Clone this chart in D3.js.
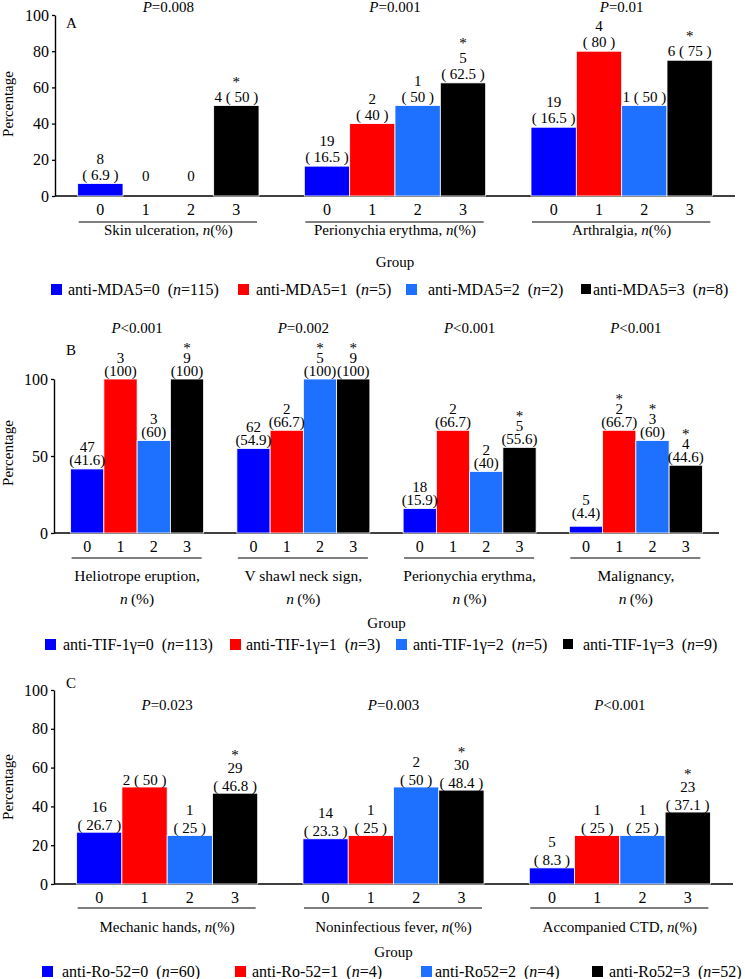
<!DOCTYPE html>
<html><head><meta charset="utf-8">
<script src="https://cdn.jsdelivr.net/npm/d3@7"></script>
<style>
body{margin:0;background:#fff}
svg{display:block}
text{font-family:"Liberation Serif","Times New Roman",serif;fill:#000;white-space:pre}
</style>
</head><body>
<svg id="c" width="745" height="979"></svg>
<script>
// ---------- DATA ----------
const groupLevels = ["0", "1", "2", "3"];

// Panel A (anti-MDA5)
const catsA = ["Skin ulceration,", "Perionychia erythma,", "Arthralgia,"];
const pA = ["=0.008", "=0.001", "=0.01"];
const barsA = [[6.9, 0, 0, 50], [16.5, 40, 50, 62.5], [38, 80, 50, 75]];
const countsA = [["8", "0", "0", "4"], ["19", "2", "1", "5"], ["19", "4", "1", "6"]];
const pctA = [["6.9", null, null, "50"], ["16.5", "40", "50", "62.5"], ["16.5", "80", "50", "75"]];
const starsA = [[0, 0, 0, 1], [0, 0, 0, 1], [0, 0, 0, 1]];
const inlineA = [[0, 0, 0, 1], [0, 0, 0, 0], [0, 0, 1, 1]];
const legendA = ["anti-MDA5=0", "anti-MDA5=1", "anti-MDA5=2", "anti-MDA5=3"];
const legendNA = ["115", "5", "2", "8"];
const yTicksA = [0, 20, 40, 60, 80, 100];

// Panel B (anti-TIF-1γ)
const catsB = ["Heliotrope eruption,", "V shawl neck sign,", "Perionychia erythma,", "Malignancy,"];
const pB = ["<0.001", "=0.002", "<0.001", "<0.001"];
const barsB = [[41.6, 100, 60, 100], [54.9, 66.7, 100, 100], [15.9, 66.7, 40, 55.6], [4.4, 66.7, 60, 44]];
const countsB = [["47", "3", "3", "9"], ["62", "2", "5", "9"], ["18", "2", "2", "5"], ["5", "2", "3", "4"]];
const pctB = [["41.6", "100", "60", "100"], ["54.9", "66.7", "100", "100"], ["15.9", "66.7", "40", "55.6"], ["4.4", "66.7", "60", "44.6"]];
const starsB = [[0, 0, 0, 1], [0, 0, 1, 1], [0, 0, 0, 1], [0, 1, 1, 1]];
const inlineB = [[0, 0, 0, 0], [0, 0, 0, 0], [0, 0, 0, 0], [0, 0, 0, 0]];
const legendB = ["anti-TIF-1γ=0", "anti-TIF-1γ=1", "anti-TIF-1γ=2", "anti-TIF-1γ=3"];
const legendNB = ["113", "3", "5", "9"];
const yTicksB = [0, 50, 100];

// Panel C (anti-Ro-52)
const catsC = ["Mechanic hands,", "Noninfectious fever,", "Accompanied CTD,"];
const pC = ["=0.023", "=0.003", "<0.001"];
const barsC = [[26.7, 50, 25, 46.8], [23.3, 25, 50, 48.4], [8.3, 25, 25, 37.1]];
const countsC = [["16", "2", "1", "29"], ["14", "1", "2", "30"], ["5", "1", "1", "23"]];
const pctC = [["26.7", "50", "25", "46.8"], ["23.3", "25", "50", "48.4"], ["8.3", "25", "25", "37.1"]];
const starsC = [[0, 0, 0, 1], [0, 0, 0, 1], [0, 0, 0, 1]];
const inlineC = [[0, 1, 0, 0], [0, 0, 0, 0], [0, 0, 0, 0]];
const legendC = ["anti-Ro-52=0", "anti-Ro-52=1", "anti-Ro52=2", "anti-Ro52=3"];
const legendNC = ["60", "4", "4", "52"];
const yTicksC = [0, 20, 40, 60, 80, 100];

// ---------- STYLE / LAYOUT ----------
const colors = ["#0000ff", "#ff0000", "#1e70ff", "#000000"];
const NB = "\u00A0";
const EN = "\u2002";
const FS = 15;

const svg = d3.select("#c");

function drawPanel(cfg, d) {
  const g = svg.append("g");
  const x0 = d3.scaleBand().domain(d.cats.map((_, i) => i))
    .range([cfg.xl, cfg.xr]).paddingInner(0.2).paddingOuter(0.1);
  const x1 = d3.scaleBand().domain(groupLevels).range([0, x0.bandwidth()]);
  const y = d3.scaleLinear().domain([0, 100]).range([cfg.yb, cfg.yt]);

  // Y axis
  const ya = g.append("g").attr("transform", `translate(${cfg.xl},0)`)
    .call(d3.axisLeft(y).tickValues(d.yTicks).tickSize(3).tickPadding(3).tickSizeOuter(0));
  ya.attr("font-family", null).attr("font-size", null);
  ya.selectAll("path").attr("stroke", "#000").attr("stroke-width", 1.4);
  ya.selectAll("line").attr("stroke", "#000").attr("stroke-width", 1.3);
  ya.selectAll("text").attr("font-size", FS + 1);

  // X baseline
  g.append("line").attr("x1", cfg.xl).attr("x2", cfg.xr)
    .attr("y1", cfg.yb).attr("y2", cfg.yb).attr("stroke", "#000").attr("stroke-width", 1.4);

  // Y label
  g.append("text").attr("transform", `translate(13,${cfg.ylabY}) rotate(-90)`)
    .attr("text-anchor", "middle").attr("font-size", FS).text("Percentage");

  // Panel letter
  g.append("text").attr("x", 66).attr("y", cfg.letterY).attr("font-size", FS).text(cfg.letter);

  d.cats.forEach((cat, i) => {
    const gx = x0(i);
    const cx = gx + x0.bandwidth() / 2;
    const gg = g.append("g");
    // bars
    gg.selectAll("rect").data(d.bars[i]).join("rect")
      .attr("x", (v, j) => gx + x1(groupLevels[j]))
      .attr("y", v => y(v))
      .attr("width", x1.bandwidth())
      .attr("height", v => cfg.yb - y(v))
      .attr("fill", (v, j) => colors[j])
      .attr("stroke", "#fff").attr("stroke-width", 0.8);

    // value labels
    d.bars[i].forEach((v, j) => {
      const bx = gx + x1(groupLevels[j]) + x1.bandwidth() / 2;
      const cnt = d.counts[i][j], pc = d.pct[i][j];
      let lines;
      const po = cfg.wide ? "(" + NB : "(", pcl = cfg.wide ? NB + ")" : ")";
      if (pc == null) lines = [cnt];
      else if (d.inline[i][j]) lines = [cnt + NB + po + pc + pcl];
      else lines = [cnt, po + pc + pcl];
      let base = Math.min(y(v) - cfg.lOff, cfg.yb - 15);
      const n = lines.length;
      lines.forEach((t, k) => {
        gg.append("text").attr("x", bx).attr("y", base - (n - 1 - k) * cfg.lSp)
          .attr("text-anchor", "middle").attr("font-size", FS).text(t);
      });
      if (d.stars[i][j]) {
        gg.append("text").attr("x", bx).attr("y", base - (n - 1) * cfg.lSp - cfg.sSp)
          .attr("text-anchor", "middle").attr("font-size", FS).text("*");
      }
    });

    // group tick labels 0-3
    const xa = gg.append("g").attr("transform", `translate(${gx},${cfg.yb})`)
      .call(d3.axisBottom(x1).tickSize(0).tickPadding(8));
    xa.attr("font-family", null).attr("font-size", null);
    xa.select(".domain").remove();
    xa.selectAll("text").attr("font-size", FS + 1);

    // underline
    gg.append("line").attr("x1", gx + 1).attr("x2", gx + x0.bandwidth() - 2)
      .attr("y1", cfg.ulY).attr("y2", cfg.ulY).attr("stroke", "#000").attr("stroke-width", 1.2);

    // category label
    if (cfg.twoLine) {
      gg.append("text").attr("x", cx).attr("y", cfg.catY).attr("text-anchor", "middle")
        .attr("font-size", FS + 0.5).text(cat);
      const t2 = gg.append("text").attr("x", cx).attr("y", cfg.catY + 23).attr("text-anchor", "middle")
        .attr("font-size", FS + 0.5);
      t2.append("tspan").attr("font-style", "italic").text("n");
      t2.append("tspan").text("\u2009(%)");
    } else {
      const t = gg.append("text").attr("x", cx).attr("y", cfg.catY).attr("text-anchor", "middle")
        .attr("font-size", FS);
      t.append("tspan").text(cat + " ");
      t.append("tspan").attr("font-style", "italic").text("n");
      t.append("tspan").text("(%)");
    }

    // P value
    const pt = gg.append("text").attr("x", cx).attr("y", cfg.pY).attr("text-anchor", "middle")
      .attr("font-size", FS);
    pt.append("tspan").attr("font-style", "italic").text("P");
    pt.append("tspan").text(d.p[i]);
  });

  // "Group"
  g.append("text").attr("x", (cfg.xl + cfg.xr) / 2).attr("y", cfg.groupY)
    .attr("text-anchor", "middle").attr("font-size", FS).text("Group");

  // legend
  d.legend.forEach((name, k) => {
    g.append("rect").attr("x", cfg.legSw[k]).attr("y", cfg.legY - 11)
      .attr("width", cfg.legSz[k]).attr("height", cfg.legSz[k]).attr("fill", colors[k]);
    const t = g.append("text").attr("x", cfg.legTx[k]).attr("y", cfg.legY).attr("font-size", FS + 1);
    t.append("tspan").text(name + EN + "(");
    t.append("tspan").attr("font-style", "italic").text("n");
    t.append("tspan").text("=" + d.legendN[k] + ")");
  });
}

drawPanel({
  xl: 55, xr: 735, yt: 15, yb: 196, letter: "A", letterY: 28, ylabY: 104,
  pY: 12, ulY: 222, catY: 235, twoLine: false, groupY: 267, legY: 295,
  lOff: 4, lSp: 16, sSp: 15, wide: true,
  legSw: [51, 238, 406, 581], legSz: [11, 11, 11, 10], legTx: [68, 256, 428, 593]
}, { cats: catsA, p: pA, bars: barsA, counts: countsA, pct: pctA, stars: starsA, inline: inlineA,
     legend: legendA, legendN: legendNA, yTicks: yTicksA });

drawPanel({
  xl: 54, xr: 719, yt: 379, yb: 533, letter: "B", letterY: 355, ylabY: 453,
  pY: 333, ulY: 558, catY: 581, twoLine: true, groupY: 628, legY: 650,
  lOff: 3.5, lSp: 13, sSp: 10, wide: false,
  legSw: [45, 230, 396, 563], legSz: [11, 11, 11, 10], legTx: [63, 246, 413, 583]
}, { cats: catsB, p: pB, bars: barsB, counts: countsB, pct: pctB, stars: starsB, inline: inlineB,
     legend: legendB, legendN: legendNB, yTicks: yTicksB });

drawPanel({
  xl: 54, xr: 733, yt: 690, yb: 884, letter: "C", letterY: 688, ylabY: 787,
  pY: 710, ulY: 908, catY: 932, twoLine: false, groupY: 957, legY: 977,
  lOff: 2.5, lSp: 18, sSp: 13, wide: true,
  legSw: [42, 235, 421, 592], legSz: [11, 11, 11, 11], legTx: [62, 252, 435, 609]
}, { cats: catsC, p: pC, bars: barsC, counts: countsC, pct: pctC, stars: starsC, inline: inlineC,
     legend: legendC, legendN: legendNC, yTicks: yTicksC });
</script>
</body></html>
